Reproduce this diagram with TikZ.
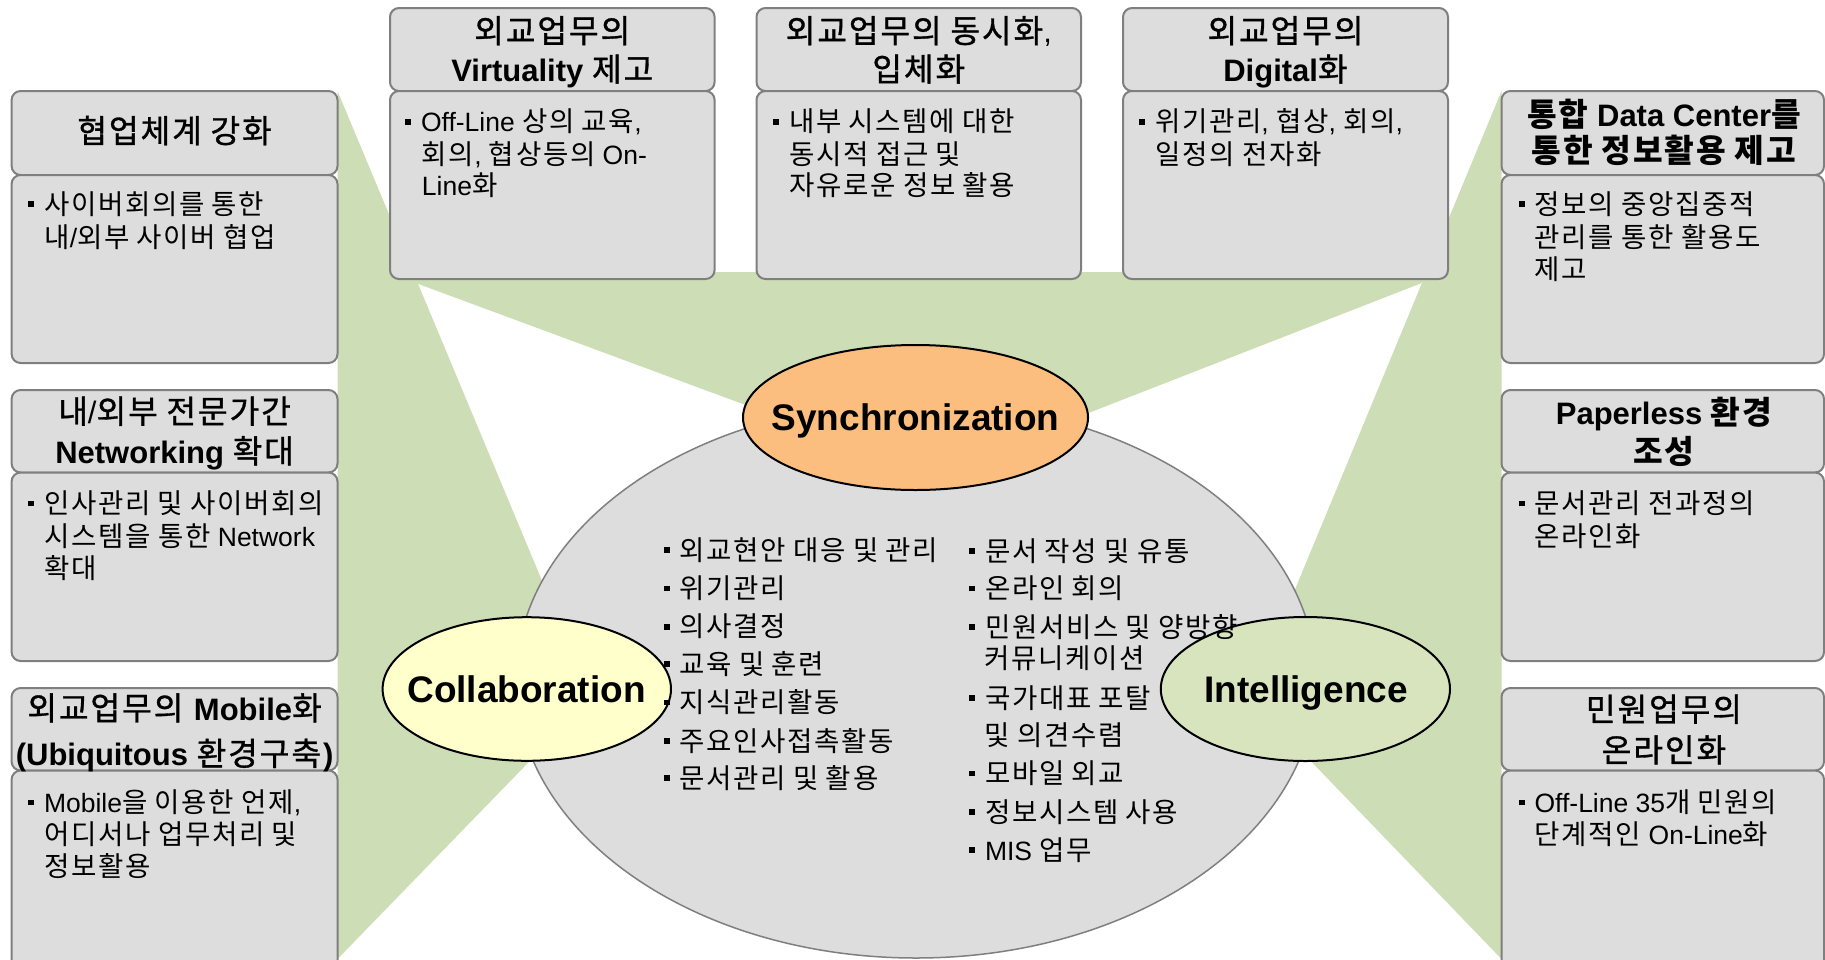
\documentclass[tikz,border=0pt]{standalone}
\usepackage{fontspec}
\setmainfont{Liberation Sans}
\newfontfamily\hangulfont[Scale=1.04,LetterSpace=6]{Noto Sans CJK KR}
\newfontfamily\hangulhdrfont[Scale=1.04,LetterSpace=6,FakeBold=1]{Noto Sans CJK KR}
\usetikzlibrary{shapes.geometric}
% switch to the Hangul font for runs of Hangul syllables
\XeTeXinterchartokenstate=1
\newXeTeXintercharclass\hangulclass
\newcount\hcnt
\hcnt="AC00
\loop
  \XeTeXcharclass\hcnt=\hangulclass
  \ifnum\hcnt<"D7A3 \advance\hcnt by 1
\repeat
\XeTeXinterchartoks 0 \hangulclass = {\hangulfont}
\XeTeXinterchartoks 4095 \hangulclass = {\hangulfont}
\XeTeXinterchartoks \hangulclass 0 = {\rmfamily}
\XeTeXinterchartoks \hangulclass 4095 = {\rmfamily}

\definecolor{greenbg}{RGB}{205,221,182}
\definecolor{cardfill}{RGB}{221,221,221}
\definecolor{cardline}{RGB}{127,127,127}
\definecolor{syncfill}{RGB}{252,190,126}
\definecolor{collabfill}{RGB}{255,255,204}
\definecolor{intelfill}{RGB}{215,228,189}

\newcommand\myhdrfont{\fontsize{15.5pt}{19pt}\selectfont}
\newcommand\mybodyfont{\fontsize{13.25pt}{16pt}\selectfont}
\newcommand\mylblfont{\fontsize{18.5pt}{22pt}\selectfont\bfseries}
\newcommand\bul{\makebox[0.59em][l]{\rule[0.27em]{0.22em}{0.22em}}}

\tikzset{
  cardbox/.style={draw=cardline, fill=cardfill, line width=1pt, rounded corners=4.5pt,
    anchor=north west, inner sep=0pt, outer sep=0pt},
  hdrtxt/.style={inner sep=0pt, anchor=base, font=\myhdrfont\let\hangulfont\hangulhdrfont},
  hdrtxtb/.style={inner sep=0pt, anchor=base, font=\myhdrfont\bfseries},
  bodytxt/.style={inner sep=0pt, anchor=base west, font=\mybodyfont},
  lbltxt/.style={inner sep=0pt, anchor=base, font=\mylblfont},
  ovalbox/.style={ellipse, inner sep=0pt, outer sep=0pt},
}

\newcommand\mkcard[6]{%
  \node[cardbox, minimum width={(#3-#2)*0.5pt}, minimum height={(#5-#4)*0.5pt}] (#1h) at (#2,#4) {};
  \node[cardbox, minimum width={(#3-#2)*0.5pt}, minimum height={(#6-#5)*0.5pt}] (#1b) at (#2,#5) {};}
\newcommand\hdrline[4]{\node[hdrtxt] (#1) at (#2,#3) {#4};}
\newcommand\hdrlineb[4]{\node[hdrtxtb] (#1) at (#2,#3) {#4};}
\newcommand\txtline[4]{\node[bodytxt] (#1) at (#2,#3) {#4};}

\begin{document}
\begin{tikzpicture}[x=0.5pt,y=-0.5pt]
\path[use as bounding box] (0,0) rectangle (1825,959);
\clip (0,0) rectangle (1825,959);

% green connecting wedges
\fill[greenbg] (337.5,91) -- (591,698) -- (337.5,959) -- cycle;
\fill[greenbg] (386,272) -- (1450,272) -- (932,474) -- cycle;
\fill[greenbg] (1501.5,91) -- (1250,698) -- (1501.5,959) -- cycle;

% cards
\mkcard{cl1}{11.6}{337.5}{91}{175}{363}
\mkcard{cl2}{11.6}{337.5}{390}{472.5}{661}
\mkcard{cl3}{11.6}{337.5}{688}{770.5}{985}
\mkcard{ct1}{390}{714.6}{8}{91}{279}
\mkcard{ct2}{756.5}{1081}{8}{91}{279}
\mkcard{ct3}{1123}{1448}{8}{91}{279}
\mkcard{cr1}{1501.5}{1824}{91}{175}{363}
\mkcard{cr2}{1501.5}{1824}{390}{472.5}{661}
\mkcard{cr3}{1501.5}{1824}{688}{770.5}{985}

% central ellipses
\node[ovalbox, draw=cardline, line width=0.75pt, fill=cardfill, minimum width=400pt, minimum height=278pt] (core) at (916,680) {};
\node[ovalbox, draw=black, line width=1pt, fill=syncfill, minimum width=172.5pt, minimum height=72.5pt] (sync) at (915.5,417.5) {};
\node[ovalbox, draw=black, line width=1pt, fill=collabfill, minimum width=144.2pt, minimum height=71.8pt] (collab) at (526.8,689) {};
\node[ovalbox, draw=black, line width=1pt, fill=intelfill, minimum width=144.6pt, minimum height=72pt] (intel) at (1305.4,689) {};

% card headers
\hdrline{h11}{174.6}{142.8}{협업체계 강화}
\hdrline{h21}{174.6}{423.3}{내/외부 전문가간}
\hdrline{h22}{174.6}{463}{\textbf{Networking} 확대}
\hdrline{h31}{174.6}{720}{외교업무의 \textbf{Mobile}화}
\hdrline{h32}{174.6}{765.5}{\textbf{(Ubiquitous} 환경구축\textbf{)}}
\hdrline{ha1}{552.3}{42.7}{외교업무의}
\hdrline{ha2}{552.3}{81.1}{\textbf{Virtuality} 제고}
\hdrline{hb1}{918.8}{42.7}{외교업무의 동시화,}
\hdrline{hb2}{918.8}{81.1}{입체화}
\hdrline{hc1}{1285.5}{42.7}{외교업무의}
\hdrline{hc2}{1285.5}{81.1}{\textbf{Digital}화}
\hdrlineb{hr11}{1664}{126.5}{통합 Data Center를}
\hdrlineb{hr12}{1664}{162.6}{통한 정보활용 제고}
\hdrlineb{hr21}{1664}{424.5}{Paperless 환경}
\hdrlineb{hr22}{1664}{463}{조성}
\hdrline{hr31}{1664}{721.3}{민원업무의}
\hdrline{hr32}{1664}{762}{온라인화}

% card bodies
\txtline{b11}{28}{214.3}{\bul 사이버회의를 통한}
\txtline{b12}{44}{247}{내/외부 사이버 협업}
\txtline{b21}{28}{513.5}{\bul 인사관리 및 사이버회의}
\txtline{b22}{44}{546}{시스템을 통한 Network}
\txtline{b23}{44}{578.5}{확대}
\txtline{b31}{28}{812.5}{\bul Mobile을 이용한 언제,}
\txtline{b32}{44}{844}{어디서나 업무처리 및}
\txtline{b33}{44}{876.5}{정보활용}
\txtline{ba1}{405}{131.7}{\bul Off-Line 상의 교육,}
\txtline{ba2}{421.5}{164.3}{회의, 협상등의 On-}
\txtline{ba3}{421.5}{195.7}{Line화}
\txtline{bb1}{773}{131.7}{\bul 내부 시스템에 대한}
\txtline{bb2}{789}{164.3}{동시적 접근 및}
\txtline{bb3}{789}{195.7}{자유로운 정보 활용}
\txtline{bc1}{1139}{131.7}{\bul 위기관리, 협상, 회의,}
\txtline{bc2}{1155.5}{164.3}{일정의 전자화}
\txtline{br11}{1518.5}{214.3}{\bul 정보의 중앙집중적}
\txtline{br12}{1534.5}{247}{관리를 통한 활용도}
\txtline{br13}{1534.5}{279.5}{제고}
\txtline{br21}{1518.5}{513.5}{\bul 문서관리 전과정의}
\txtline{br22}{1534.5}{546}{온라인화}
\txtline{br31}{1518.5}{812.5}{\bul Off-Line 35개 민원의}
\txtline{br32}{1534.5}{844}{단계적인 On-Line화}

% central list, left column
\txtline{l1}{663.5}{560}{\bul 외교현안 대응 및 관리}
\txtline{l2}{663.5}{598.5}{\bul 위기관리}
\txtline{l3}{663.5}{636.8}{\bul 의사결정}
\txtline{l4}{663.5}{674}{\bul 교육 및 훈련}
\txtline{l5}{663.5}{712.5}{\bul 지식관리활동}
\txtline{l6}{663.5}{751}{\bul 주요인사접촉활동}
\txtline{l7}{663.5}{788}{\bul 문서관리 및 활용}
% central list, right column
\txtline{r1}{969}{561}{\bul 문서 작성 및 유통}
\txtline{r2}{969}{598.5}{\bul 온라인 회의}
\txtline{r3}{969}{637}{\bul 민원서비스 및 양방향}
\txtline{r3b}{984.5}{668}{커뮤니케이션}
\txtline{r4}{969}{708}{\bul 국가대표 포탈}
\txtline{r4b}{984.5}{745}{및 의견수렴}
\txtline{r5}{969}{783.5}{\bul 모바일 외교}
\txtline{r6}{969}{822}{\bul 정보시스템 사용}
\txtline{r7}{969}{860}{\bul MIS 업무}

% ellipse labels
\node[lbltxt] (synct) at (915.5,430) {Synchronization};
\node[lbltxt] (collabt) at (526.5,702) {Collaboration};
\node[lbltxt] (intelt) at (1306,702) {Intelligence};
\end{tikzpicture}
\end{document}
